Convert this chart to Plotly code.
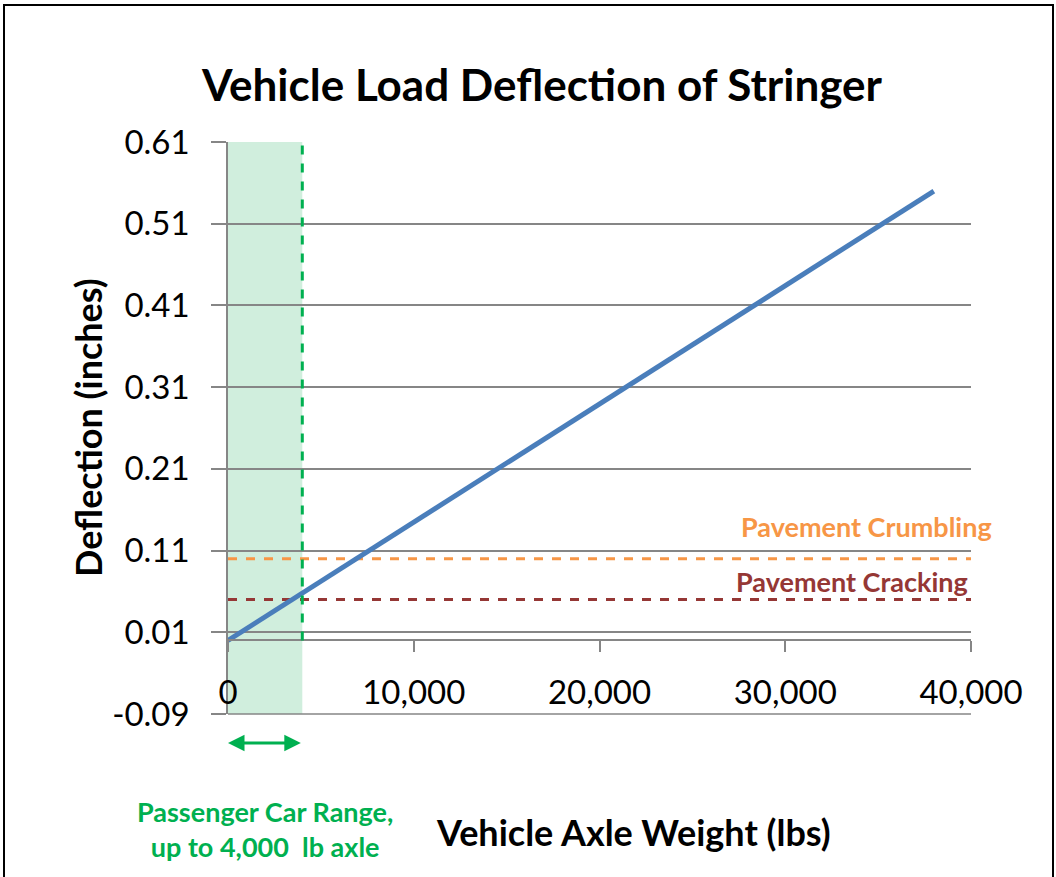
import plotly.graph_objects as go

# Data
axle_weight = [0, 4000, 10000, 20000, 30000, 38000]
deflection = [0.0, 0.058, 0.145, 0.289, 0.434, 0.55]
crumbling_x = [0, 40000]
crumbling_y = [0.10, 0.10]
cracking_x = [0, 40000]
cracking_y = [0.05, 0.05]
car_range_max = 4000
y_ticks = [-0.09, 0.01, 0.11, 0.21, 0.31, 0.41, 0.51, 0.61]
y_tick_labels = ["-0.09", "0.01", "0.11", "0.21", "0.31", "0.41", "0.51", "0.61"]
x_ticks = [0, 10000, 20000, 30000, 40000]
x_tick_labels = ["0", "10,000", "20,000", "30,000", "40,000"]

FONT = "Lato, Carlito, Calibri, sans-serif"
GREEN = "#00b050"
GRID = "#868686"
ymin, ymax = -0.09, 0.61

L, R, T, B = 228, 85, 142, 163
W, H = 1056, 877
PW, PH = W - L - R, H - T - B


def px_x(p):
    return (p - L) / PW


def px_y(p):
    return (H - B - p) / PH


fig = go.Figure()

fig.add_trace(go.Scatter(x=crumbling_x, y=crumbling_y, mode="lines",
                         line=dict(color="#f79646", width=3, dash="dash"),
                         showlegend=False, hoverinfo="skip"))
fig.add_trace(go.Scatter(x=cracking_x, y=cracking_y, mode="lines",
                         line=dict(color="#953735", width=3, dash="dash"),
                         showlegend=False, hoverinfo="skip"))
fig.add_trace(go.Scatter(x=axle_weight, y=deflection, mode="lines",
                         line=dict(color="#4a7ebb", width=5),
                         showlegend=False))

# shaded passenger-car range
fig.add_shape(type="rect", xref="x", yref="y", x0=0, x1=car_range_max,
              y0=ymin, y1=ymax, fillcolor="#d0eedd", line_width=0, layer="below")
fig.add_shape(type="line", xref="x", yref="y", x0=car_range_max, x1=car_range_max,
              y0=0, y1=ymax, line=dict(color=GREEN, width=3, dash="dash"))
# bottom gridline at the lowest tick (bottom edge of the plot area)
fig.add_shape(type="line", xref="paper", yref="paper", x0=0, x1=1, y0=0, y1=0,
              line=dict(color=GRID, width=1.5), layer="above")

# double arrow under the range
fig.add_annotation(x=0, y=px_y(743), xref="x", yref="paper", ax=car_range_max, ay=0,
                   axref="x", ayref="pixel", text="", showarrow=True,
                   arrowside="end+start", arrowhead=2, arrowsize=1.1,
                   arrowwidth=3, arrowcolor=GREEN)

fig.add_annotation(x=car_range_max / 2, y=px_y(829), xref="x", yref="paper",
                   text="Passenger Car Range,<br>up to 4,000  lb axle",
                   showarrow=False, xanchor="center", yanchor="middle",
                   font=dict(family=FONT, size=27, color=GREEN, weight="bold"))

fig.add_annotation(x=34350, y=0.10, xref="x", yref="y", yshift=32,
                   text="Pavement Crumbling", showarrow=False,
                   xanchor="center", yanchor="middle",
                   font=dict(family=FONT, size=27, color="#f79646", weight="bold"))
fig.add_annotation(x=33600, y=0.05, xref="x", yref="y", yshift=18,
                   text="Pavement Cracking", showarrow=False,
                   xanchor="center", yanchor="middle",
                   font=dict(family=FONT, size=27, color="#953735", weight="bold"))

# axis titles
fig.add_annotation(x=px_x(633), y=px_y(832), xref="paper", yref="paper",
                   text="Vehicle Axle Weight (lbs)", showarrow=False,
                   xanchor="center", yanchor="middle",
                   font=dict(family=FONT, size=36, color="black", weight="bold"))
fig.add_annotation(x=px_x(88), y=px_y(428), xref="paper", yref="paper",
                   text="Deflection (inches)", showarrow=False, textangle=-90,
                   xanchor="center", yanchor="middle",
                   font=dict(family=FONT, size=36, color="black", weight="bold"))

# outer border
fig.add_shape(type="rect", xref="paper", yref="paper",
              x0=px_x(4), x1=px_x(1053), y0=px_y(900), y1=px_y(5),
              line=dict(color="black", width=2), fillcolor="rgba(0,0,0,0)")

fig.update_layout(
    width=W, height=H,
    margin=dict(l=L, r=R, t=T, b=B),
    paper_bgcolor="white", plot_bgcolor="white",
    title=dict(text="<b>Vehicle Load Deflection of Stringer</b>",
               x=542 / W, xanchor="center", xref="container",
               y=1 - 86 / H, yanchor="middle", yref="container",
               automargin=False,
               font=dict(family=FONT, size=44, color="black")),
    font=dict(family=FONT, color="black"),
    showlegend=False,
)

fig.update_xaxes(range=[0, 40000], tickvals=x_ticks, ticktext=x_tick_labels,
                 showgrid=False, zeroline=False, showline=True, automargin=False,
                 linecolor=GRID, linewidth=1.5,
                 anchor="free", position=(0 - ymin) / (ymax - ymin),
                 ticks="outside", ticklen=11, tickcolor=GRID, tickwidth=1.5,
                 ticklabelstandoff=12,
                 tickfont=dict(family=FONT, size=33, color="black"))
fig.update_yaxes(range=[ymin, ymax], tickvals=y_ticks, ticktext=y_tick_labels,
                 showgrid=True, gridcolor=GRID, gridwidth=1.5, automargin=False,
                 zeroline=False, showline=True, linecolor=GRID, linewidth=1.5,
                 ticks="outside", ticklen=15, tickcolor=GRID, tickwidth=1.5,
                 ticklabelstandoff=15,
                 tickfont=dict(family=FONT, size=33, color="black"))

fig.write_html("out.html", config={"displayModeBar": False},
               post_script="document.body.style.margin='0px';")
